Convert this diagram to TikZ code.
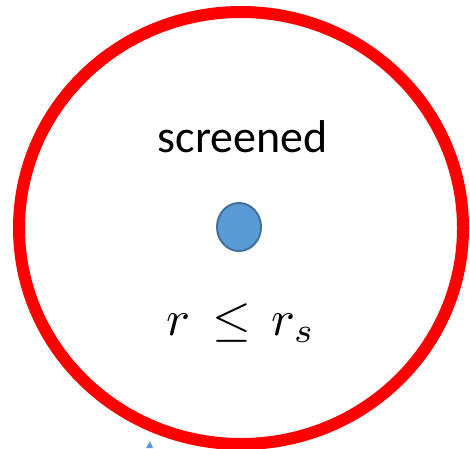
\documentclass[tikz,border=0pt]{standalone}
\usepackage{fontspec}
\setmainfont{Carlito}
\definecolor{ringred}{HTML}{FF0000}
\definecolor{dotfill}{HTML}{5B9BD5}
\definecolor{dotedge}{HTML}{41719C}
\begin{document}
\begin{tikzpicture}[x=1pt,y=1pt,
  ring/.style={draw=ringred,line width=12pt},
  dotstyle/.style={draw=dotedge,fill=dotfill,line width=2pt},
  label/.style={inner sep=0pt,anchor=base}]
\useasboundingbox (0,0) rectangle (470,448);
\clip (0,0) rectangle (470,448);
\fill[white] (0,0) rectangle (470,448);
\draw[ring] (241,220) ellipse [x radius=222, y radius=216];
\draw[dotstyle] (239,221) ellipse [x radius=22, y radius=24];
\node[label,font=\fontsize{46}{50}\selectfont] (scr) at (242.5,296) {screened};
\node[label,font=\fontsize{10}{12}\selectfont,scale=5,transform shape] (rel) at (241,113) {$r\mkern3mu\leq\mkern2mu r_s$};
\fill[dotfill] (146,0) -- (150,7) -- (153,0) -- cycle;
\end{tikzpicture}
\end{document}
